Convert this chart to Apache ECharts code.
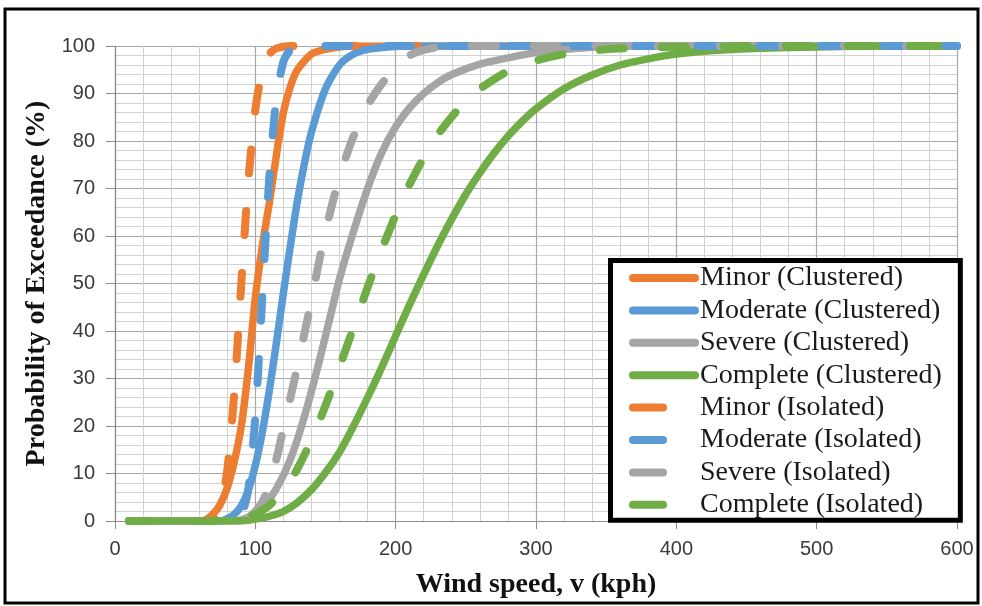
<!DOCTYPE html>
<html>
<head>
<meta charset="utf-8">
<script src="https://cdn.jsdelivr.net/npm/echarts@6/dist/echarts.min.js"></script>
<style>
  html, body { margin: 0; padding: 0; background: #fff; }
  #vis { width: 982px; height: 606px; }
</style>
</head>
<body>
<div id="vis"></div>
<script>
// fragility curves: [wind speed (kph), probability (%)]
const minorClustered = [[10,0],[60,0],[65,0.3],[70,1.5],[75,3.5],[80,7],[85,12.5],[90,20],[95,32],[100,47],[105,58],[110,67],[115,77],[120,86],[125,91.5],[130,95],[140,98.3],[150,99.3],[170,100],[600,100]];
const moderateClustered = [[10,0],[75,0],[80,0.5],[85,1.4],[90,3.2],[95,6.5],[100,11.7],[105,18.7],[110,27.5],[115,37.5],[120,48],[125,58],[130,67.4],[135,75.3],[140,81.9],[150,91],[160,96],[170,98.3],[180,99.3],[200,99.9],[220,100],[600,100]];
const severeClustered = [[10,0],[85,0],[95,0.8],[105,2.8],[115,6.8],[125,13],[135,22],[145,33],[155,45],[160,51],[170,61],[180,70],[190,77.5],[200,83],[210,87],[220,90],[230,92.3],[240,94],[260,96.2],[280,97.5],[300,98.6],[330,99.5],[360,100],[600,100]];
const completeClustered = [[10,0],[90,0],[100,0.4],[110,1],[120,2],[130,3.9],[140,6.6],[150,10.2],[160,14.5],[170,20],[180,26],[190,32.3],[200,39],[210,45.6],[220,51.9],[230,58],[240,63.6],[250,68.8],[260,73.3],[270,77.4],[280,81],[290,84.1],[300,86.8],[320,91],[340,93.9],[360,96],[380,97.3],[400,98.3],[430,99.1],[460,99.5],[500,99.8],[550,100],[600,100]];

const minorIsolated = [[10,0],[65,0],[70,0.4],[75,2.7],[80,10.7],[85,27],[90,50],[95,71.5],[100,86.6],[105,94.8],[110,98.3],[115,99.5],[125,100],[600,100]];
const moderateIsolated = [[10,0],[80,0],[85,0.1],[90,1.2],[95,6.7],[100,22],[105,47.3],[110,72.5],[115,89],[120,96.7],[125,99.2],[130,99.85],[140,100],[600,100]];
const severeIsolated = [[10,0],[90,0],[95,0.7],[100,2],[105,4],[110,7.5],[115,13],[120,19.5],[125,26],[130,32.5],[135,39.5],[140,46.5],[145,54],[150,61],[155,67],[160,72.5],[165,77],[170,81],[180,87.5],[190,92],[200,95.5],[210,98],[220,99.2],[240,100],[600,100]];
const completeIsolated = [[10,0],[85,0],[90,0.5],[100,1.4],[110,3.3],[120,6.4],[130,11],[140,17.1],[150,24.3],[160,32.4],[170,40.8],[180,49.2],[190,57.1],[200,64.4],[210,70.9],[220,76.5],[230,81.3],[240,85.1],[250,88.5],[260,91],[280,94.7],[300,96.9],[320,98.3],[350,99.3],[380,99.7],[420,99.9],[450,100],[600,100]];

const seriesNames = [
  'Minor (Clustered)', 'Moderate (Clustered)', 'Severe (Clustered)', 'Complete (Clustered)',
  'Minor (Isolated)', 'Moderate (Isolated)', 'Severe (Isolated)', 'Complete (Isolated)'
];
const seriesData = [
  minorClustered, moderateClustered, severeClustered, completeClustered,
  minorIsolated, moderateIsolated, severeIsolated, completeIsolated
];
const palette = ['#ED7D31', '#5B9BD5', '#A5A5A5', '#70AD47'];

const vis = document.getElementById('vis');
const chart = echarts.init(vis);

const dash = [24, 38];
const serif = 'Liberation Serif, Times New Roman, serif';
const sans = 'Liberation Sans, Arial, sans-serif';

const series = seriesData.map((data, i) => {
  const isolated = i >= 4;
  return {
    name: seriesNames[i],
    type: 'line',
    data: data,
    symbol: 'none',
    smooth: 0.25,
    color: palette[i % 4],
    lineStyle: {
      width: isolated ? 8 : 7.5,
      type: isolated ? dash : 'solid',
      cap: 'round',
      join: 'round'
    }
  };
});

const legendData = seriesNames.map((name, i) => ({
  name: name,
  itemStyle: { opacity: 0 },
  lineStyle: {
    width: 8,
    type: i >= 4 ? [30, 60] : 'solid',
    cap: 'round'
  }
}));

const options = {
  animation: false,
  backgroundColor: '#fff',
  grid: { left: 115, right: 25, top: 46, bottom: 85 },
  xAxis: {
    type: 'value',
    min: 0,
    max: 600,
    interval: 100,
    name: 'Wind speed, v (kph)',
    nameLocation: 'middle',
    nameGap: 50,
    nameTextStyle: { fontFamily: serif, fontWeight: 'bold', fontSize: 28, color: '#111' },
    axisLine: { lineStyle: { color: '#8c8c8c', width: 1.2 } },
    axisTick: { show: true, length: 8, lineStyle: { color: '#8c8c8c' } },
    axisLabel: { fontFamily: sans, fontSize: 20, color: '#3a3a3a', margin: 18 },
    splitLine: { lineStyle: { color: '#a8a8a8', width: 1.2 } },
    minorTick: { show: false, splitNumber: 5 },
    minorSplitLine: { show: true, lineStyle: { color: '#d2d2d2', width: 1 } }
  },
  yAxis: {
    type: 'value',
    min: 0,
    max: 100,
    interval: 10,
    name: 'Probability of Exceedance (%)',
    nameLocation: 'middle',
    nameGap: 53,
    nameTextStyle: { fontFamily: serif, fontWeight: 'bold', fontSize: 28, color: '#111' },
    axisLine: { show: true, lineStyle: { color: '#8c8c8c', width: 1.2 } },
    axisTick: { show: true, length: 9, lineStyle: { color: '#8c8c8c' } },
    axisLabel: { fontFamily: sans, fontSize: 20, color: '#3a3a3a', margin: 20 },
    splitLine: { lineStyle: { color: '#a8a8a8', width: 1.2 } },
    minorTick: { show: false, splitNumber: 5 },
    minorSplitLine: { show: true, lineStyle: { color: '#d2d2d2', width: 1 } }
  },
  legend: {
    orient: 'vertical',
    left: 610.5,
    top: 260.5,
    padding: [3.5, 18.5, 1.5, 18.5],
    itemGap: 4.4,
    itemWidth: 62,
    itemHeight: 28,
    borderColor: '#000',
    borderWidth: 5,
    backgroundColor: '#fff',
    textStyle: { fontFamily: serif, fontSize: 28, color: '#1a1a1a', lineHeight: 28 },
    data: legendData
  },
  graphic: [
    {
      type: 'rect',
      shape: { x: 5, y: 9, width: 973, height: 594 },
      style: { fill: 'none', stroke: '#000', lineWidth: 3 },
      z: 100
    }
  ],
  series: series
};

chart.setOption(options);
</script>
</body>
</html>
